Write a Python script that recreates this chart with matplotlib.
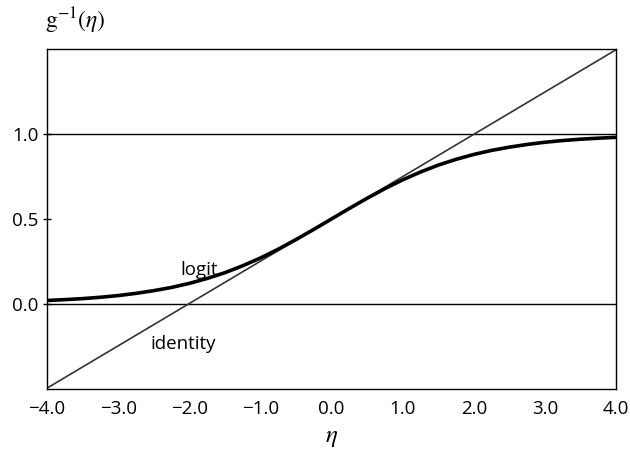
import matplotlib
matplotlib.use("Agg")
import matplotlib.pyplot as plt

eta = [-4.0, -3.75, -3.5, -3.25, -3.0, -2.75, -2.5, -2.25, -2.0, -1.75, -1.5, -1.25,
       -1.0, -0.75, -0.5, -0.25, 0.0, 0.25, 0.5, 0.75, 1.0, 1.25, 1.5, 1.75, 2.0,
       2.25, 2.5, 2.75, 3.0, 3.25, 3.5, 3.75, 4.0]
logit = [0.018, 0.023, 0.029, 0.037, 0.047, 0.060, 0.076, 0.095, 0.119, 0.148, 0.182,
         0.223, 0.269, 0.321, 0.378, 0.438, 0.5, 0.562, 0.622, 0.679, 0.731, 0.777,
         0.818, 0.852, 0.881, 0.905, 0.924, 0.940, 0.953, 0.963, 0.971, 0.977, 0.982]
identity_eta = [-4.0, 4.0]
identity_val = [-0.5, 1.5]
ref_levels = [0.0, 1.0]
xticks = [-4.0, -3.0, -2.0, -1.0, 0.0, 1.0, 2.0, 3.0, 4.0]
xticklabels = ["\u22124.0", "\u22123.0", "\u22122.0", "\u22121.0", "0.0", "1.0", "2.0", "3.0", "4.0"]
yticks = [0.0, 0.5, 1.0]
yticklabels = ["0.0", "0.5", "1.0"]

plt.rcParams["font.family"] = ["Open Sans", "DejaVu Sans"]
plt.rcParams["mathtext.fontset"] = "stix"

fig = plt.figure(figsize=(6.3, 4.51), dpi=100)
ax = fig.add_axes([0.0746, 0.1375, 0.9034, 0.7535])

for lv in ref_levels:
    ax.axhline(lv, color="black", lw=1.0)
ax.plot(identity_eta, identity_val, color="#333333", lw=1.2)
ax.plot(eta, logit, color="black", lw=2.6, solid_capstyle="round")

ax.set_xlim(-4.0, 4.0)
ax.set_ylim(-0.505, 1.503)
ax.set_xticks(xticks)
ax.set_xticklabels(xticklabels, fontsize=13.5)
ax.set_yticks(yticks)
ax.set_yticklabels(yticklabels, fontsize=13.5)
ax.tick_params(axis="x", length=0, pad=8)
ax.tick_params(axis="y", direction="inout", length=6, width=1, pad=3)
for s in ax.spines.values():
    s.set_linewidth(1.0)

ax.text(-1.86, 0.2, "logit", fontsize=13.5, ha="center", va="center")
ax.text(-2.08, -0.24, "identity", fontsize=13.5, ha="center", va="center")

ax.set_xlabel(r"$\eta$", fontsize=18, labelpad=4)
fig.text(0.072, 0.955, r"g$^{-1}$($\eta$)", fontsize=17, family="STIXGeneral",
         ha="left", va="center")

fig.savefig("out.png", dpi=100)
